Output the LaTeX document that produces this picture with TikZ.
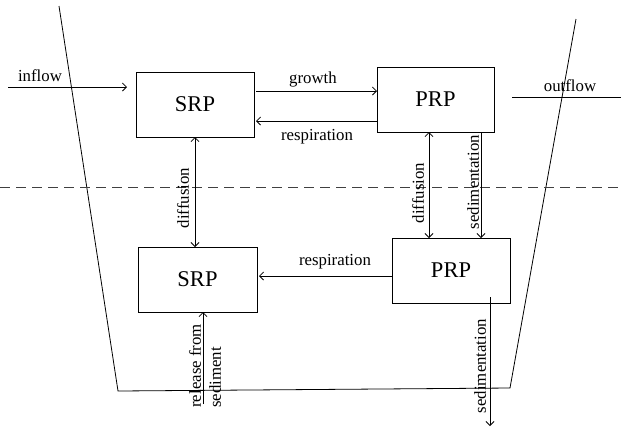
\documentclass[tikz,border=0pt]{standalone}
\usepackage{fontspec}
\setmainfont{Liberation Serif}
\usetikzlibrary{arrows.meta}
\begin{document}
\begin{tikzpicture}[x=1bp,y=-1bp,
  line width=0.8bp,
  arr/.style={-{Straight Barb[length=4bp,width=8bp]}},
  darr/.style={{Straight Barb[length=4bp,width=8bp]}-{Straight Barb[length=4bp,width=8bp]}},
  pool/.style={draw,minimum height=65bp,inner sep=0pt,outer sep=0pt,
    font=\fontsize{22.5bp}{26bp}\selectfont},
  lab/.style={inner sep=0pt,font=\fontsize{16.8bp}{20bp}\selectfont},
  vlab/.style={lab,rotate=90}]
\useasboundingbox (0,0) rectangle (621,427);

% basin outline and water/sediment boundary
\coordinate (bTL) at (59,6);
\coordinate (bBL) at (118,391);
\coordinate (bBR) at (510,388);
\coordinate (bTR) at (576,19);
\draw (bTL) -- (bBL) -- (bBR) -- (bTR);
\coordinate (dL) at (0,187);
\coordinate (dR) at (621,187);
\draw[black!75,dash pattern=on 10bp off 6bp] (dL) -- (dR);

% pools
\node[pool,minimum width=118bp] (srp1) at (195,104.5) {SRP};
\node[pool,minimum width=117bp] (prp1) at (435.5,99.5) {PRP};
\node[pool,minimum width=119bp] (srp2) at (197.5,279.5) {SRP};
\node[pool,minimum width=118bp] (prp2) at (451,270.5) {PRP};

% inflow / outflow
\coordinate (inS) at (8,87);
\draw[arr,shorten >=9bp] (inS) -- (srp1.west |- inS);
\node[lab] (inflow) at (40,76) {inflow};
\coordinate (outS) at (512,97);
\coordinate (outE) at (621,97);
\draw (outS) -- (outE);
\node[lab] (outflow) at (570,86) {outflow};

% upper exchanges
\coordinate (gY) at (0,91);
\coordinate (rY) at (0,121);
\draw[arr,shorten <=2bp] (srp1.east |- gY) -- (prp1.west |- gY);
\node[lab] (growth) at (313,79) {growth};
\draw[arr,shorten >=2bp] (prp1.west |- rY) -- (srp1.east |- rY);
\node[lab] (resp1) at (317,137) {respiration};

% vertical exchanges
\draw[darr] (srp1.south) -- (srp1.south |- srp2.north);
\node[vlab] (diff1) at (183,198) {diffusion};
\coordinate (d2X) at (429,0);
\coordinate (s1X) at (481,0);
\draw[darr] (prp1.south -| d2X) -- (prp2.north -| d2X);
\node[vlab] (diff2) at (418,193) {diffusion};
\draw[arr] (prp1.south -| s1X) -- (prp2.north -| s1X);
\node[vlab] (sed1) at (473,182) {sedimentation};

% lower exchanges
\coordinate (r2Y) at (0,276);
\draw[arr,shorten >=2bp] (prp2.west |- r2Y) -- (srp2.east |- r2Y);
\node[lab] (resp2) at (335,262) {respiration};
\coordinate (relS) at (203,404);
\draw[arr] (relS) -- (srp2.south -| relS);
\node[vlab,anchor=west,align=left] (rel) at (205,408) {release from\\sediment};
\coordinate (s2S) at (490,297);
\coordinate (s2E) at (490,426);
\draw[arr] (s2S) -- (s2E);
\node[vlab] (sed2) at (480,366) {sedimentation};
\end{tikzpicture}
\end{document}
